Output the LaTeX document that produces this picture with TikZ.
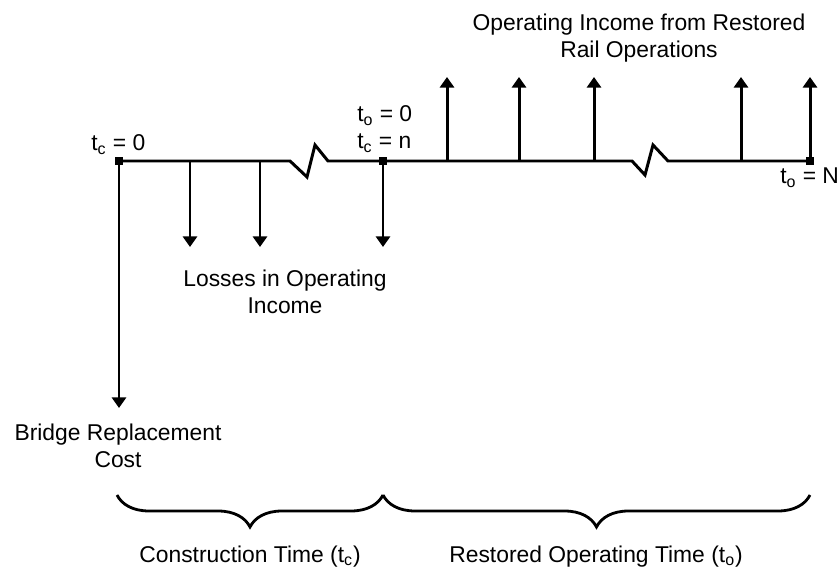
\documentclass[tikz,border=0pt]{standalone}
\usepackage{fontspec}
\setmainfont{Liberation Sans}
\usetikzlibrary{arrows.meta,decorations.pathreplacing}
\tikzset{
  flow/.style={line width=1.7pt,-{Triangle[length=6pt,width=8pt]}},
  tick/.style={fill,inner sep=0pt,minimum size=5pt},
  lbl/.style={inner sep=0pt,align=center,font=\fontsize{13}{15.5}\selectfont},
  period/.style={line width=1.6pt,decorate,decoration={brace,mirror,amplitude=0.64cm}}
}
\begin{document}
\begin{tikzpicture}[x=0.02cm,y=-0.02cm]
\pgfmathsetmacro{\ly}{161}
\pgfmathsetmacro{\up}{77}
\pgfmathsetmacro{\dn}{247}
\useasboundingbox (0,0) rectangle (838,573);
%timeline
\node[tick] (c0) at (119,\ly) {};
\node[tick] (cn) at (383,\ly) {};
\node[tick] (oN) at (810,\ly) {};
\draw[line width=1.7pt] (c0.center) -- (290,\ly) -- (307,177) -- (315,145) -- (328,\ly) -- (cn.center)
  -- (632,\ly) -- (645,175) -- (653,145) -- (668,\ly) -- (oN.center);
%
\node[lbl,anchor=base west] (tc0) at (91,151) {t\textsubscript{c} = 0};
\node[lbl,anchor=base west] (to0) at (357,122) {t\textsubscript{o} = 0};
\node[lbl,anchor=base west] (tcn) at (357,149) {t\textsubscript{c} = n};
\node[lbl,anchor=base west] (toN) at (780,184) {t\textsubscript{o} = N};
%losses
\coordinate (l1) at (190,\ly);
\coordinate (l2) at (260,\ly);
\coordinate (l1e) at (190,\dn);
\coordinate (l2e) at (260,\dn);
\coordinate (l3e) at (383,\dn);
\coordinate (bre) at (119,408);
\draw[flow] (c0.center) -- (bre);
\draw[flow] (l1) -- (l1e);
\draw[flow] (l2) -- (l2e);
\draw[flow] (cn.center) -- (l3e);
%income
\coordinate (i1) at (447,\ly);
\coordinate (i2) at (519,\ly);
\coordinate (i3) at (594,\ly);
\coordinate (i4) at (741,\ly);
\draw[flow] (i1) -- (447,\up) coordinate (i1e);
\draw[flow] (i2) -- (519,\up) coordinate (i2e);
\draw[flow] (i3) -- (594,\up) coordinate (i3e);
\draw[flow] (i4) -- (741,\up) coordinate (i4e);
\draw[flow] (oN.center) -- (810,\up) coordinate (i5e);
%labels
\node[lbl] (income) at (639,38) {Operating Income from Restored\\Rail Operations};
\node[lbl] (losses) at (285,292) {Losses in Operating\\Income};
\node[lbl] (bridge) at (118,446) {Bridge Replacement\\Cost};
%braces
\coordinate (b0) at (117,495);
\coordinate (b1) at (383,495);
\coordinate (b2) at (810,495);
\draw[period] (b0) -- (b1);
\draw[period] (b1) -- (b2);
\node[lbl,anchor=base] (ctime) at (250,562) {Construction Time (t\textsubscript{c})};
\node[lbl,anchor=base] (otime) at (596,562) {Restored Operating Time (t\textsubscript{o})};
\end{tikzpicture}
\end{document}
